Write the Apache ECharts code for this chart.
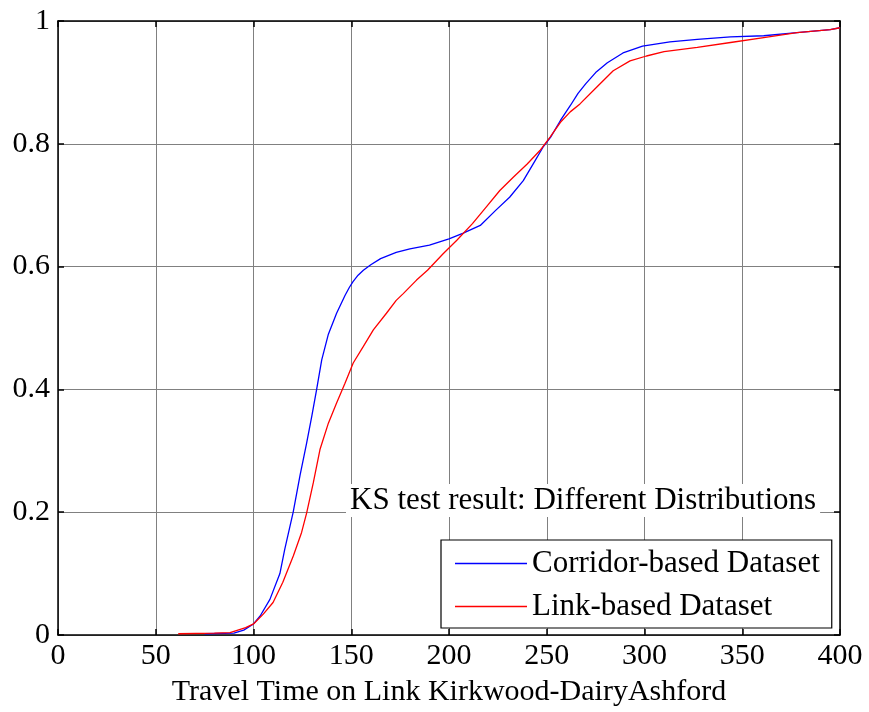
<!doctype html>
<meta charset="utf-8">
<title>KS test CDF</title>
<style>
	html, body { margin: 0; padding: 0; background: #fff; }
	#chart { width: 869px; height: 712px; }
</style>
<div id="chart"></div>
<script src="https://cdn.jsdelivr.net/npm/echarts@6/dist/echarts.min.js"></script>
<script>
	var corridorX = [75, 90, 95, 100, 103.4, 108.4, 113.5, 116, 120.3, 123.8, 127.2, 129.8, 132.3, 134.9, 138.3, 142.5, 146.8, 149, 151, 153.5, 156.2, 160, 165, 173, 180, 190, 200, 207, 216, 224, 231, 238, 243, 248, 252, 257, 262, 266, 270, 275, 281, 289, 299, 313, 327, 344, 361, 378, 395, 400];
	var corridorY = [0.002, 0.003, 0.008, 0.018, 0.031, 0.058, 0.10, 0.14, 0.20, 0.26, 0.313, 0.356, 0.40, 0.448, 0.49, 0.524, 0.553, 0.566, 0.576, 0.586, 0.594, 0.603, 0.613, 0.623, 0.629, 0.635, 0.645, 0.654, 0.667, 0.692, 0.713, 0.74, 0.767, 0.794, 0.811, 0.838, 0.862, 0.882, 0.898, 0.916, 0.932, 0.948, 0.959, 0.966, 0.97, 0.974, 0.976, 0.981, 0.986, 0.989];
	var linkX = [61.5, 80, 88, 92, 96, 100, 105, 110, 115, 120.4, 124.6, 127.2, 130.6, 134, 138.3, 142.5, 146.8, 151, 156.2, 161.3, 168, 173, 176.6, 183.4, 189, 197, 204, 212, 219, 226, 233, 240, 246.5, 251.7, 257, 262, 267, 275.5, 284, 292.6, 301, 310, 327, 344, 361, 378, 395, 400];
	var linkY = [0.002, 0.003, 0.004, 0.008, 0.012, 0.018, 0.034, 0.053, 0.086, 0.129, 0.167, 0.199, 0.248, 0.302, 0.345, 0.378, 0.41, 0.443, 0.47, 0.497, 0.524, 0.545, 0.556, 0.578, 0.594, 0.621, 0.643, 0.67, 0.697, 0.724, 0.746, 0.767, 0.789, 0.811, 0.835, 0.852, 0.865, 0.892, 0.919, 0.935, 0.943, 0.95, 0.957, 0.965, 0.973, 0.981, 0.986, 0.989];
	var seriesNames = ['Corridor-based Dataset', 'Link-based Dataset'];
	var xTitle = 'Travel Time on Link Kirkwood-DairyAshford';
	var ksText = 'KS test result: Different Distributions';

	function pairs(xs, ys) {
		return xs.map(function (x, i) { return [x, ys[i]]; });
	}

	var font = '"Liberation Serif", "Times New Roman", serif';
	var fs = 30;
	var fsBox = 31;
	var boxAxis = {
		axisLine: { show: true, onZero: false, lineStyle: { color: '#000', width: 1.5 } },
		axisTick: { show: true, inside: true, length: 6, lineStyle: { color: '#000', width: 1.5 } }
	};

	var chart = echarts.init(document.getElementById('chart'), null, { renderer: 'canvas' });
	chart.setOption({
		animation: false,
		backgroundColor: '#fff',
		textStyle: { fontFamily: font },
		grid: { left: 58, right: 29, top: 21, bottom: 76 },
		xAxis: [
			Object.assign({
				type: 'value', min: 0, max: 400, interval: 50, position: 'bottom',
				name: xTitle, nameLocation: 'middle', nameGap: 42,
				nameTextStyle: { fontFamily: font, fontSize: fs, color: '#000' },
				axisLabel: { fontFamily: font, fontSize: fs, color: '#000', margin: 6 },
				splitLine: { show: true, lineStyle: { color: '#808080', width: 1 } }
			}, boxAxis),
			Object.assign({
				type: 'value', min: 0, max: 400, interval: 50, position: 'top',
				axisLabel: { show: false }, splitLine: { show: false }
			}, boxAxis)
		],
		yAxis: [
			Object.assign({
				type: 'value', min: 0, max: 1, interval: 0.2, position: 'left',
				axisLabel: { fontFamily: font, fontSize: fs, color: '#000', margin: 8 },
				splitLine: { show: true, lineStyle: { color: '#808080', width: 1 } }
			}, boxAxis),
			Object.assign({
				type: 'value', min: 0, max: 1, interval: 0.2, position: 'right',
				axisLabel: { show: false }, splitLine: { show: false }
			}, boxAxis)
		],
		legend: {
			orient: 'vertical', left: 441, top: 540,
			backgroundColor: '#fff', borderColor: '#000', borderWidth: 1.2,
			padding: [8, 12, 6, 14], itemWidth: 72, itemHeight: 1.3, itemGap: 12,
			icon: 'rect',
			textStyle: { fontFamily: font, fontSize: fsBox, color: '#000', lineHeight: 30 },
			data: seriesNames
		},
		graphic: [{
			type: 'text', left: 346, top: 484, z: 100,
			style: {
				text: ksText, fontFamily: font, fontSize: fsBox, fill: '#000',
				backgroundColor: '#fff', padding: [1, 4, 1, 4]
			}
		}],
		series: [
			{
				name: seriesNames[0], type: 'line', symbol: 'none', showSymbol: false,
				lineStyle: { color: '#0000ff', width: 1.3 }, itemStyle: { color: '#0000ff' },
				data: pairs(corridorX, corridorY)
			},
			{
				name: seriesNames[1], type: 'line', symbol: 'none', showSymbol: false,
				lineStyle: { color: '#ff0000', width: 1.3 }, itemStyle: { color: '#ff0000' },
				data: pairs(linkX, linkY)
			}
		]
	});
</script>
